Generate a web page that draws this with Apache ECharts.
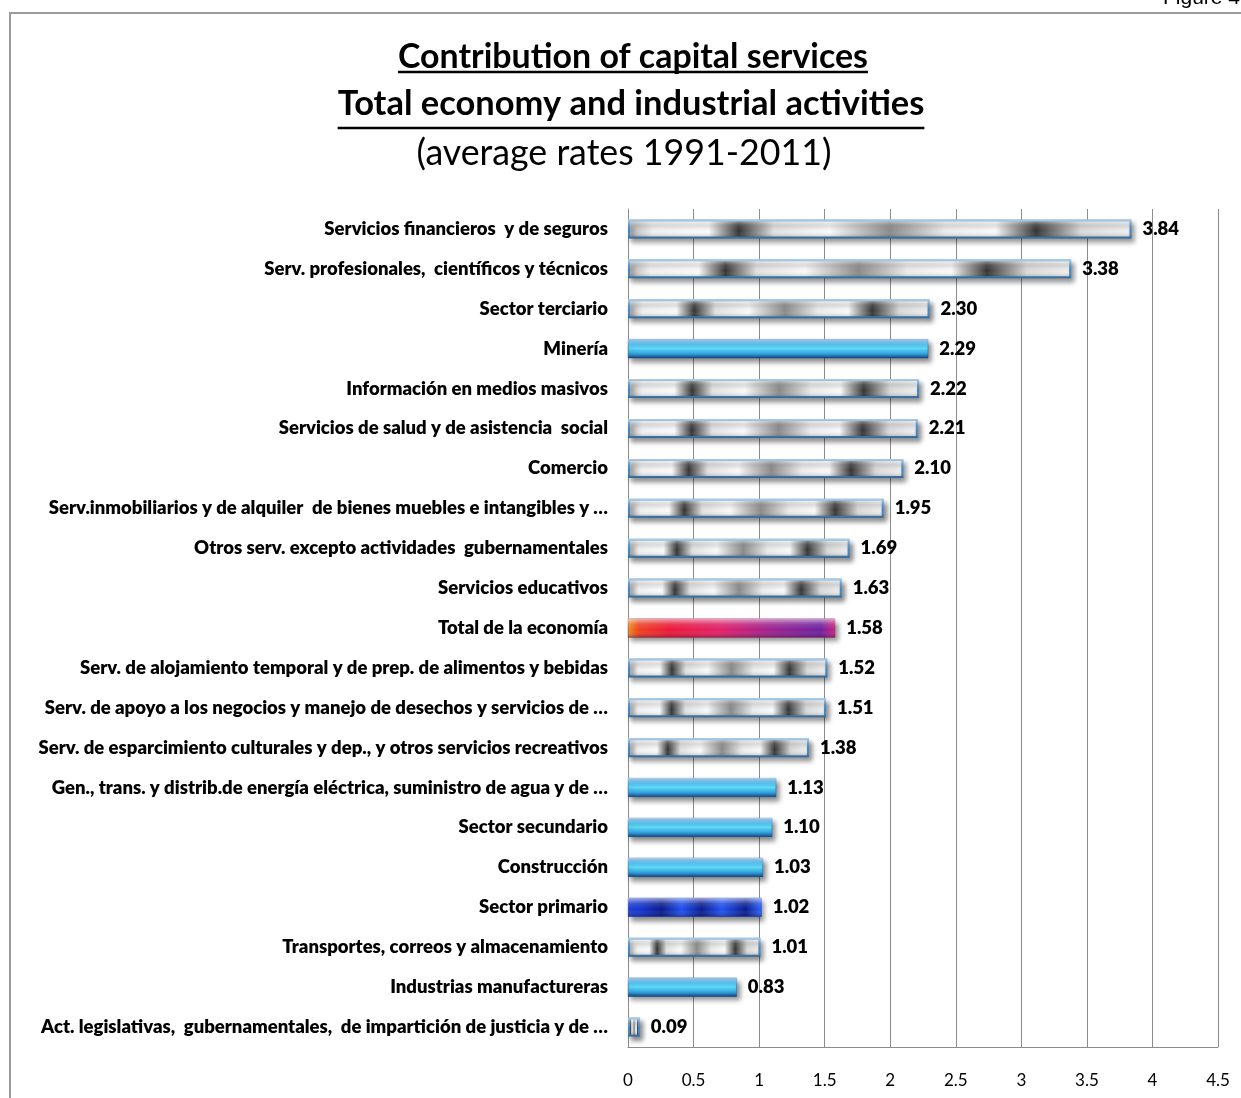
<!DOCTYPE html>
<html>
<head>
<meta charset="utf-8">
<script src="https://cdn.jsdelivr.net/npm/echarts@6/dist/echarts.min.js"></script>
<style>
html,body{margin:0;padding:0;background:#fff;}
#chart{width:1241px;height:1098px;}
</style>
</head>
<body>
<div id="chart"></div>
<script>
// ---------- DATA ----------
var categories = [
  'Servicios financieros  y de seguros',
  'Serv. profesionales,  científicos y técnicos',
  'Sector terciario',
  'Minería',
  'Información en medios masivos',
  'Servicios de salud y de asistencia  social',
  'Comercio',
  'Serv.inmobiliarios y de alquiler  de bienes muebles e intangibles y …',
  'Otros serv. excepto actividades  gubernamentales',
  'Servicios educativos',
  'Total de la economía',
  'Serv. de alojamiento temporal y de prep. de alimentos y bebidas',
  'Serv. de apoyo a los negocios y manejo de desechos y servicios de …',
  'Serv. de esparcimiento culturales y dep., y otros servicios recreativos',
  'Gen., trans. y distrib.de energía eléctrica, suministro de agua y de …',
  'Sector secundario',
  'Construcción',
  'Sector primario',
  'Transportes, correos y almacenamiento',
  'Industrias manufactureras',
  'Act. legislativas,  gubernamentales,  de impartición de justicia y de …'
];
var values = [3.84, 3.38, 2.30, 2.29, 2.22, 2.21, 2.10, 1.95, 1.69, 1.63, 1.58,
              1.52, 1.51, 1.38, 1.13, 1.10, 1.03, 1.02, 1.01, 0.83, 0.09];
var xTicks = [0, 0.5, 1, 1.5, 2, 2.5, 3, 3.5, 4, 4.5];
var titleLines = ['Contribution of capital services',
                  'Total economy and industrial activities',
                  '(average rates 1991-2011)'];
var figureLabel = 'Figure 4';

// ---------- STYLES ----------
var cyanSet = ['Minería', 'Gen., trans. y distrib.de energía eléctrica, suministro de agua y de …',
               'Sector secundario', 'Construcción', 'Industrias manufactureras'];
var navySet = ['Sector primario'];
var totalSet = ['Total de la economía'];

function lg(x2, y2, stops) {
  return new echarts.graphic.LinearGradient(0, 0, x2, y2,
    stops.map(function (s) { return { offset: s[0], color: s[1] }; }));
}
var silverFill = lg(1, 0, [[0, '#b0b0b0'], [0.05, '#f0f0f0'], [0.16, '#fbfbfb'], [0.22, '#333333'],
  [0.29, '#e2e2e2'], [0.4, '#fafafa'], [0.52, '#8a8a8a'], [0.63, '#ececec'], [0.73, '#fafafa'],
  [0.81, '#343434'], [0.9, '#dadada'], [1, '#f0f0f0']]);
var cyanFill = lg(0, 1, [[0, '#1b78cc'], [0.3, '#36bdf0'], [0.5, '#5ad6f6'], [0.75, '#2aa6e2'], [1, '#0f55aa']]);
var navyFill = lg(1, 0, [[0, '#1e40d8'], [0.12, '#1230c8'], [0.25, '#081a8a'], [0.4, '#2050f0'],
  [0.55, '#0a1c90'], [0.7, '#2252f2'], [0.88, '#0a1c90'], [1, '#2a66ff']]);
var totalFill = lg(1, 0, [[0, '#f39a1a'], [0.05, '#f04020'], [0.2, '#ee1838'], [0.45, '#e2206a'],
  [0.7, '#9a2290'], [0.93, '#6e20a0'], [1, '#d02080']]);

function styleFor(name) {
  if (cyanSet.indexOf(name) >= 0) return { color: cyanFill, borderColor: '#1a5fb0', borderWidth: 0.5 };
  if (navySet.indexOf(name) >= 0) return { color: navyFill, borderColor: '#1a3fd0', borderWidth: 0.5 };
  if (totalSet.indexOf(name) >= 0) return { color: totalFill, borderColor: '#a0206a', borderWidth: 0.5 };
  return { color: silverFill, borderColor: '#3d86c6', borderWidth: 2 };
}

var mainData = values.map(function (v, i) {
  return { value: v, itemStyle: styleFor(categories[i]) };
});
var glossFill = lg(0, 1, [[0, 'rgba(255,255,255,0.6)'], [0.3, 'rgba(255,255,255,0.15)'],
  [0.6, 'rgba(255,255,255,0)'], [1, 'rgba(0,0,0,0.25)']]);

// ---------- TITLE MEASURE ----------
var ctx = document.createElement('canvas').getContext('2d');
function measure(txt, font) { ctx.font = font; return ctx.measureText(txt).width; }
var fam = 'Lato, "Open Sans", sans-serif';
var targetW = [470, 587, 415];
var weights = ['bold', 'bold', 'normal'];
var sizes = titleLines.map(function (t, i) {
  var w = measure(t, weights[i] + ' 32px ' + fam);
  return 32 * targetW[i] / w;
});
var centers = [633, 631, 624];
var mids = [57, 104, 153];
var ulY = [72, 128];

var graphics = [
  { type: 'rect', shape: { x: 10, y: 13, width: 1300, height: 1200 },
    style: { fill: 'none', stroke: '#9a9a9a', lineWidth: 2 }, silent: true, z: 0 },
  { type: 'text', style: { text: figureLabel, x: 1163, y: 9, fontSize: 21,
    fontFamily: '"Liberation Sans", Arial, sans-serif', fill: '#000', align: 'left', verticalAlign: 'bottom' } }
];
titleLines.forEach(function (t, i) {
  graphics.push({ type: 'text', style: { text: t, x: centers[i], y: mids[i],
    fontSize: sizes[i], fontWeight: weights[i], fontFamily: fam, fill: '#000',
    align: 'center', verticalAlign: 'middle' } });
  if (i < 2) {
    var w = measure(t, weights[i] + ' ' + sizes[i] + 'px ' + fam);
    graphics.push({ type: 'line', shape: { x1: centers[i] - w / 2, y1: ulY[i], x2: centers[i] + w / 2, y2: ulY[i] },
      style: { stroke: '#000', lineWidth: 2.5 } });
  }
});

var chart = echarts.init(document.getElementById('chart'), null, { renderer: 'canvas' });
chart.setOption({
  backgroundColor: '#fff',
  animation: false,
  graphic: graphics,
  grid: { left: 628, right: 23, top: 209, bottom: 51, containLabel: false },
  xAxis: {
    type: 'value', min: xTicks[0], max: xTicks[xTicks.length - 1], interval: xTicks[1] - xTicks[0],
    axisLine: { show: true, lineStyle: { color: '#8c8c8c', width: 1 } },
    axisTick: { show: false },
    splitLine: { show: true, lineStyle: { color: '#8c8c8c', width: 1 } },
    axisLabel: { color: '#000', fontSize: 17, fontFamily: fam, margin: 25 }
  },
  yAxis: {
    type: 'category', inverse: true, data: categories,
    axisLine: { show: true, lineStyle: { color: '#8c8c8c', width: 1 } },
    axisTick: { show: false },
    splitLine: { show: false },
    axisLabel: { color: '#000', fontSize: 18.5, fontWeight: 800, fontFamily: fam, margin: 20, interval: 0 }
  },
  series: [
    {
      type: 'bar', data: mainData, barWidth: 19,
      itemStyle: { shadowColor: 'rgba(0,0,0,0.45)', shadowBlur: 5, shadowOffsetX: 3, shadowOffsetY: 4 },
      label: { show: true, position: 'right', distance: 11, color: '#000', fontSize: 18.5,
        fontWeight: 800, fontFamily: fam,
        formatter: function (p) { return p.value.toFixed(2); } },
      z: 2
    },
    {
      type: 'bar', data: values, barWidth: 19, barGap: '-100%', silent: true,
      itemStyle: { color: glossFill }, z: 3
    }
  ]
});
</script>
</body>
</html>
